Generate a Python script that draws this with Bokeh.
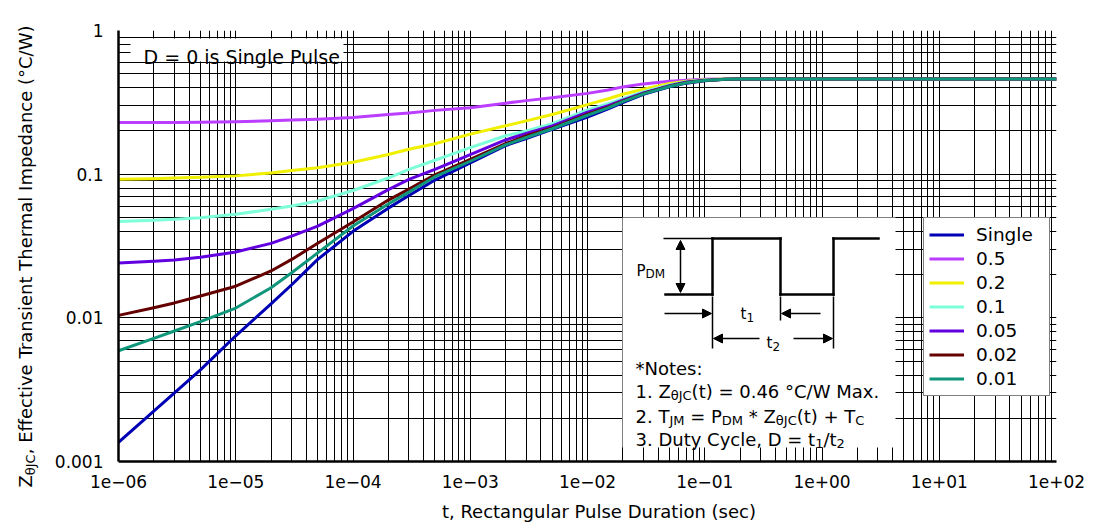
import math
from bokeh.plotting import figure
from bokeh.layouts import row, column
from bokeh.models import (FixedTicker, Range1d, Legend, LegendItem, Label,
                          BoxAnnotation, Arrow, NormalHead)
from bokeh.embed import file_html
from bokeh.resources import INLINE

# ---------------- data ----------------
t_sec = [1e-6, 2e-6, 3e-6, 5e-6, 1e-5, 2e-5, 3e-5, 5e-5, 1e-4, 2e-4, 3e-4, 5e-4,
         1e-3, 2e-3, 3e-3, 5e-3, 1e-2, 1.5e-2, 2e-2, 3e-2, 5e-2, 7e-2, 1e-1, 1.5e-1,
         2e-1, 1.0, 10.0, 100.0]
z_single = [0.00136, 0.00224, 0.00300, 0.00434, 0.0075, 0.0125, 0.017, 0.0255, 0.040,
            0.058, 0.071, 0.091, 0.12, 0.158, 0.177, 0.205, 0.25, 0.285, 0.315, 0.36,
            0.405, 0.43, 0.447, 0.457, 0.46, 0.46, 0.46, 0.46]
z_d050 = [0.229, 0.229, 0.229, 0.23, 0.232, 0.235, 0.238, 0.241, 0.248, 0.26, 0.267,
          0.278, 0.29, 0.312, 0.325, 0.34, 0.365, 0.385, 0.405, 0.425, 0.443, 0.45,
          0.457, 0.46, 0.46, 0.46, 0.46, 0.46]
z_d020 = [0.092, 0.093, 0.094, 0.095, 0.0973, 0.102, 0.106, 0.111, 0.121, 0.137, 0.149,
          0.163, 0.19, 0.217, 0.235, 0.26, 0.305, 0.335, 0.36, 0.39, 0.428, 0.443,
          0.455, 0.459, 0.46, 0.46, 0.46, 0.46]
z_d010 = [0.0468, 0.0478, 0.0485, 0.0498, 0.0526, 0.057, 0.060, 0.065, 0.077, 0.094,
          0.108, 0.125, 0.153, 0.185, 0.2, 0.225, 0.28, 0.31, 0.335, 0.375, 0.418, 0.44,
          0.452, 0.458, 0.46, 0.46, 0.46, 0.46]
z_d005 = [0.0241, 0.0248, 0.0253, 0.0264, 0.0287, 0.033, 0.037, 0.0435, 0.0575, 0.078,
          0.092, 0.108, 0.137, 0.173, 0.192, 0.217, 0.27, 0.30, 0.328, 0.368, 0.413,
          0.438, 0.45, 0.458, 0.46, 0.46, 0.46, 0.46]
z_d002 = [0.0104, 0.01175, 0.0127, 0.0142, 0.0166, 0.0212, 0.0255, 0.033, 0.0465, 0.066,
          0.0786, 0.099, 0.127, 0.163, 0.185, 0.21, 0.262, 0.293, 0.322, 0.364, 0.41,
          0.435, 0.449, 0.458, 0.46, 0.46, 0.46, 0.46]
z_d001 = [0.0059, 0.0072, 0.0081, 0.0094, 0.0117, 0.0162, 0.0206, 0.0283, 0.0436,
          0.062, 0.075, 0.096, 0.123, 0.16, 0.18, 0.207, 0.257, 0.289, 0.32, 0.362,
          0.408, 0.433, 0.448, 0.457, 0.46, 0.46, 0.46, 0.46]

series_values = [z_single, z_d050, z_d020, z_d010, z_d005, z_d002, z_d001]
series_labels = ["Single", "0.5", "0.2", "0.1", "0.05", "0.02", "0.01"]
series_colors = ["#0000b4", "#bb3dff", "#f0f000", "#7dffd9", "#6200e0", "#640000", "#10967a"]

x_tick_values = [1e-6, 1e-5, 1e-4, 1e-3, 1e-2, 1e-1, 1.0, 10.0, 100.0]
x_tick_labels = ["1e\u221206", "1e\u221205", "1e\u221204", "1e\u221203", "1e\u221202",
                 "1e\u221201", "1e+00", "1e+01", "1e+02"]
y_tick_values = [0.001, 0.01, 0.1, 1.0]
y_tick_labels = ["0.001", "0.01", "0.1", "1"]

x_minor = [m * 10.0 ** e for e in range(-6, 2) for m in range(2, 10)]
y_minor = [m * 10.0 ** e for e in range(-3, 0) for m in range(2, 10)]

FONT = "DejaVu Sans"
PAGE_W, PAGE_H = 1094, 523
YLAB_W = 40            # width of the strip holding the y title
XLAB_H = 25            # height of the strip holding the x title
FRAME_LEFT, FRAME_TOP, FRAME_RIGHT, FRAME_BOTTOM = 118, 30, 1056, 461

# DejaVu Sans advance widths (em)
W = {' ': 0.318, '(': 0.390, ')': 0.390, '*': 0.500, '+': 0.838, ',': 0.318,
     '.': 0.318, '/': 0.337, ':': 0.337, '=': 0.838, 'C': 0.698, 'D': 0.770,
     'E': 0.632, 'I': 0.295, 'J': 0.295, 'M': 0.863, 'N': 0.748, 'P': 0.603,
     'R': 0.695, 'S': 0.635, 'T': 0.611, 'W': 0.989, 'Z': 0.685, 'a': 0.613,
     'c': 0.550, 'd': 0.635, 'e': 0.615, 'f': 0.352, 'g': 0.635, 'h': 0.634,
     'i': 0.278, 'l': 0.278, 'm': 0.974, 'n': 0.634, 'o': 0.612, 'p': 0.635,
     'r': 0.411, 's': 0.521, 't': 0.392, 'u': 0.634, 'v': 0.592, 'x': 0.592,
     'y': 0.592, '\u03b8': 0.613, '\u00b0': 0.500}
for d in "0123456789":
    W[d] = 0.636


def tw(s, size):
    return sum(W.get(ch, 0.6) for ch in s) * size


class Placer:
    """Places screen-unit annotations on a figure using page coordinates."""

    def __init__(self, fig, left, bottom):
        self.fig, self.left, self.bottom = fig, left, bottom

    def fx(self, px):
        return px - self.left

    def fy(self, py):
        return self.bottom - py

    def label(self, text, x, y, size, angle=0.0):
        self.fig.add_layout(Label(x=self.fx(x), y=self.fy(y), x_units="screen",
                                  y_units="screen", text=text, angle=angle,
                                  text_font=FONT, text_font_size=f"{size}px",
                                  text_baseline="alphabetic", text_align="left",
                                  text_color="black"))

    def rich(self, parts, x, y, size=18, sub=13, drop=4):
        for text, is_sub in parts:
            fs = sub if is_sub else size
            lead = len(text) - len(text.lstrip(' '))
            self.label(text.strip(' '), x + tw(text[:lead], fs),
                       y + (drop if is_sub else 0), fs)
            x += tw(text, fs)

    def rich_vertical(self, parts, x, y, size=18, sub=13, drop=5):
        for text, is_sub in parts:
            fs = sub if is_sub else size
            lead = len(text) - len(text.lstrip(' '))
            self.label(text.strip(' '), x + (drop if is_sub else 0),
                       y - tw(text[:lead], fs), fs, angle=math.pi / 2)
            y -= tw(text, fs)

    def box(self, x0, y0, x1, y1):
        self.fig.add_layout(BoxAnnotation(
            left=self.fx(x0), right=self.fx(x1), top=self.fy(y0), bottom=self.fy(y1),
            left_units="screen", right_units="screen", top_units="screen",
            bottom_units="screen", fill_color="white", fill_alpha=1.0,
            line_color=None, line_alpha=0))

    def seg(self, x0, y0, x1, y1, w=1.5, end_head=False, start_head=False, cap="butt"):
        def head():
            return NormalHead(size=9, fill_color="black", line_color="black", line_width=1)
        self.fig.add_layout(Arrow(
            x_start=self.fx(x0), y_start=self.fy(y0), x_end=self.fx(x1), y_end=self.fy(y1),
            start_units="screen", end_units="screen", line_color="black",
            line_width=w, line_cap=cap, end=head() if end_head else None,
            start=head() if start_head else None))


def blank_fig(w, h, left=0, right=0):
    f = figure(width=w, height=h, x_range=Range1d(0, 1), y_range=Range1d(0, 1),
               x_axis_location=None, y_axis_location=None, output_backend="svg",
               toolbar_location=None, min_border=0)
    f.min_border_left = left
    f.min_border_right = right
    f.outline_line_color = None
    f.grid.visible = False
    f.background_fill_color = "white"
    f.border_fill_color = "white"
    return f


# ---------------- main chart ----------------
main_w = PAGE_W - YLAB_W
main_h = PAGE_H - XLAB_H
p = figure(width=main_w, height=main_h, x_axis_type="log", y_axis_type="log",
           x_range=Range1d(1e-6, 1e2), y_range=Range1d(1e-3, 1.0),
           output_backend="svg", toolbar_location=None,
           min_border_left=FRAME_LEFT - YLAB_W, min_border_right=PAGE_W - FRAME_RIGHT,
           min_border_top=FRAME_TOP, min_border_bottom=main_h - FRAME_BOTTOM)
p.outline_line_color = None
p.background_fill_color = "white"
p.border_fill_color = "white"

xt = FixedTicker(ticks=x_tick_values, minor_ticks=x_minor)
yt = FixedTicker(ticks=y_tick_values, minor_ticks=y_minor)
p.xaxis.ticker = xt
p.yaxis.ticker = yt
p.xgrid.ticker = xt
p.ygrid.ticker = yt
p.xaxis.major_label_overrides = dict(zip(x_tick_values, x_tick_labels))
p.yaxis.major_label_overrides = dict(zip(y_tick_values, y_tick_labels))

for ax in (p.xaxis, p.yaxis):
    ax.axis_line_color = "black"
    ax.axis_line_width = 2.5
    ax.major_tick_line_color = None
    ax.minor_tick_line_color = None
    ax.major_label_text_font = FONT
    ax.major_label_text_font_size = "17px"
    ax.major_label_text_color = "black"
p.xaxis.major_label_standoff = 7
p.yaxis.major_label_standoff = 9

for g in (p.xgrid, p.ygrid):
    g.grid_line_color = "black"
    g.grid_line_width = 1
    g.minor_grid_line_color = "black"
    g.minor_grid_line_width = 1

renderers = []
for vals, col in zip(series_values, series_colors):
    renderers.append(p.line(t_sec, vals, line_color=col, line_width=3, line_join="round"))

m = Placer(p, FRAME_LEFT, FRAME_BOTTOM)

# white boxes over the grid
m.box(130, 38, 343, 61)
m.box(622, 217, 895, 447)

m.rich([("D = 0 is Single Pulse", False)], 143, 56, size=19)

# pulse diagram
wave = [(665, 294), (712, 294), (712, 238), (780, 238), (780, 294), (833, 294),
        (833, 238), (878, 238)]
for (a, b), (c, d) in zip(wave[:-1], wave[1:]):
    m.seg(a, b, c, d, w=2.5, cap="square")
m.seg(663, 238, 711, 238, w=1.5)
m.seg(680, 240, 680, 292, w=1.5, end_head=True, start_head=True)
m.seg(712, 296, 712, 348, w=1.5)
m.seg(780, 296, 780, 320, w=1.5)
m.seg(833, 296, 833, 348, w=1.5)
m.seg(664, 313, 711, 313, w=1.5, end_head=True)
m.seg(820, 313, 781, 313, w=1.5, end_head=True)
m.seg(759, 338, 713, 338, w=1.5, end_head=True)
m.seg(793, 338, 832, 338, w=1.5, end_head=True)
m.rich([("P", False), ("DM", True)], 636, 270, size=15, sub=12, drop=3)
m.rich([("t", False), ("1", True)], 740, 313, size=15, sub=12, drop=4)
m.rich([("t", False), ("2", True)], 766, 342, size=15, sub=12, drop=4)

# notes
m.rich([("*Notes:", False)], 635, 368)
m.rich([("1. Z", False), ("\u03b8JC", True), ("(t) = 0.46 \u00b0C/W Max.", False)], 635, 391)
m.rich([("2. T", False), ("JM", True), (" = P", False), ("DM", True), (" * Z", False),
        ("\u03b8JC", True), ("(t) + T", False), ("C", True)], 635, 416)
m.rich([("3. Duty Cycle, D = t", False), ("1", True), ("/t", False), ("2", True)], 635, 439)

# legend
items = [LegendItem(label=lab, renderers=[r]) for lab, r in zip(series_labels, renderers)]
legend = Legend(items=items, location=(m.fx(923), m.fy(396)),
                label_text_font=FONT, label_text_font_size="18.5px",
                label_text_color="black", label_width=68,
                glyph_width=35, glyph_height=23, label_height=23, spacing=1,
                padding=5, margin=0, label_standoff=12,
                border_line_color="black", border_line_width=1,
                background_fill_color="white", background_fill_alpha=1.0)
p.add_layout(legend)

# ---------------- y title strip ----------------
ylab = blank_fig(YLAB_W, PAGE_H)
yp = Placer(ylab, 0, PAGE_H)
yp.rich_vertical([("Z", False), ("\u03b8JC", True),
                  (", Effective Transient Thermal Impedance (\u00b0C/W)", False)], 25, 487)

# ---------------- x title strip ----------------
xlab = blank_fig(main_w, XLAB_H, left=FRAME_LEFT - YLAB_W, right=PAGE_W - FRAME_RIGHT)
xp = Placer(xlab, FRAME_LEFT, PAGE_H)
xtitle = "t, Rectangular Pulse Duration (sec)"
xp.rich([(xtitle, False)], 599 - tw(xtitle, 18) / 2, 511)

layout = row(ylab, column(p, xlab, spacing=0), spacing=0)

open("out.html", "w").write(file_html(layout, INLINE))
